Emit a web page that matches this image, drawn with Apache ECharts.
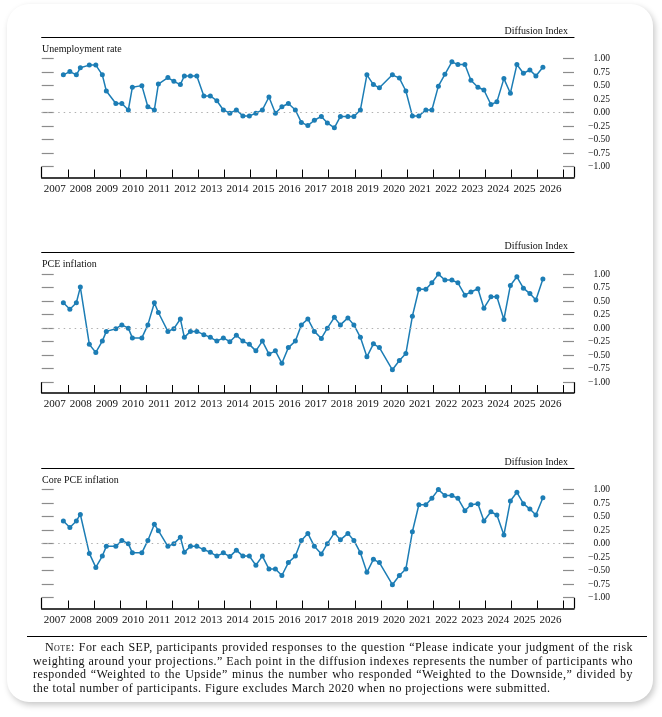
<!DOCTYPE html>
<html>
<head>
<meta charset="utf-8">
<script src="https://cdn.jsdelivr.net/npm/echarts@6/dist/echarts.min.js"></script>
<style>
  html, body { margin: 0; padding: 0; background: #fff; }
  body { width: 662px; height: 717px; position: relative; overflow: hidden; }
  .card {
    position: absolute; left: 7px; top: 4px; width: 646px; height: 698px;
    border-radius: 22px; background: #fff;
    box-shadow: 2px 3px 6px rgba(0, 0, 0, 0.22);
  }
  #chart { position: absolute; left: 0; top: 0; width: 662px; height: 717px; }
  .rule { position: absolute; left: 27px; top: 636px; width: 620px; height: 0; border-top: 1.3px solid #000; }
  .note {
    position: absolute; left: 33px; top: 641px; width: 600px;
    font-family: "Liberation Serif", "DejaVu Serif", serif; font-size: 12px; line-height: 13.7px;
    letter-spacing: 0.45px;
    color: #111; text-align: justify; text-indent: 12px;
  }
  .sc { font-variant: small-caps; }
</style>
</head>
<body>
<div class="card"></div>
<div id="chart"></div>
<div class="rule"></div>
<div class="note"><span class="sc">Note</span>: For each SEP, participants provided responses to the question “Please indicate your judgment of the risk weighting around your projections.” Each point in the diffusion indexes represents the number of participants who responded “Weighted to the Upside” minus the number who responded “Weighted to the Downside,” divided by the total number of participants. Figure excludes March 2020 when no projections were submitted.</div>
<script>
// SEP release dates (March 2020 has no projections)
const sepDates = [
  '2007-10-31',
  '2008-01-30', '2008-04-30', '2008-06-25', '2008-10-29',
  '2009-01-28', '2009-04-29', '2009-06-24', '2009-11-04',
  '2010-01-27', '2010-04-28', '2010-06-23', '2010-11-03',
  '2011-01-26', '2011-04-27', '2011-06-22', '2011-11-02',
  '2012-01-25', '2012-04-25', '2012-06-20', '2012-09-13', '2012-12-12',
  '2013-03-20', '2013-06-19', '2013-09-18', '2013-12-18',
  '2014-03-19', '2014-06-18', '2014-09-17', '2014-12-17',
  '2015-03-18', '2015-06-17', '2015-09-17', '2015-12-16',
  '2016-03-16', '2016-06-15', '2016-09-21', '2016-12-14',
  '2017-03-15', '2017-06-14', '2017-09-20', '2017-12-13',
  '2018-03-21', '2018-06-13', '2018-09-26', '2018-12-19',
  '2019-03-20', '2019-06-19', '2019-09-18', '2019-12-11',
  '2020-06-10', '2020-09-16', '2020-12-16',
  '2021-03-17', '2021-06-16', '2021-09-22', '2021-12-15',
  '2022-03-16', '2022-06-15', '2022-09-21', '2022-12-14',
  '2023-03-22', '2023-06-14', '2023-09-20', '2023-12-13',
  '2024-03-20', '2024-06-12', '2024-09-18', '2024-12-18',
  '2025-03-19', '2025-06-18', '2025-09-17', '2025-12-10',
  '2026-03-18'
];

const unemployment = [
  0.70,
  0.76, 0.70, 0.83, 0.88,
  0.88, 0.70, 0.40, 0.17,
  0.17, 0.05, 0.47, 0.50,
  0.11, 0.05, 0.53, 0.65,
  0.58, 0.52, 0.68, 0.68, 0.68,
  0.31, 0.31, 0.22, 0.05,
  -0.01, 0.05, -0.06, -0.06,
  -0.01, 0.05, 0.29, -0.01,
  0.11, 0.17, 0.05, -0.18,
  -0.24, -0.14, -0.07, -0.19,
  -0.28, -0.07, -0.07, -0.07,
  0.05, 0.70, 0.52, 0.46,
  0.70, 0.64, 0.40,
  -0.06, -0.06, 0.05, 0.05,
  0.49, 0.71, 0.94, 0.89,
  0.89, 0.60, 0.47, 0.42,
  0.15, 0.20, 0.63, 0.36,
  0.89, 0.73, 0.79, 0.68,
  0.84
];

const pceInflation = [
  0.47,
  0.35, 0.47, 0.76, -0.30,
  -0.45, -0.24, -0.06, -0.01,
  0.06, 0.00, -0.18, -0.18,
  0.06, 0.47, 0.29, -0.06,
  -0.01, 0.17, -0.17, -0.06, -0.06,
  -0.12, -0.17, -0.24, -0.18,
  -0.25, -0.13, -0.24, -0.30,
  -0.42, -0.24, -0.48, -0.42,
  -0.65, -0.36, -0.24, 0.06,
  0.17, -0.06, -0.19, 0.00,
  0.20, 0.06, 0.19, 0.06,
  -0.17, -0.53, -0.29, -0.36,
  -0.77, -0.60, -0.47,
  0.22, 0.72, 0.72, 0.84,
  1.00, 0.89, 0.89, 0.84,
  0.61, 0.67, 0.73, 0.37,
  0.58, 0.58, 0.16, 0.79,
  0.95, 0.74, 0.64, 0.52,
  0.91
];

const corePceInflation = [
  0.42,
  0.30, 0.42, 0.54, -0.18,
  -0.44, -0.23, -0.05, -0.05,
  0.06, 0.00, -0.17, -0.17,
  0.06, 0.36, 0.24, -0.05,
  0.00, 0.12, -0.16, -0.05, -0.05,
  -0.11, -0.16, -0.23, -0.17,
  -0.24, -0.12, -0.23, -0.23,
  -0.40, -0.23, -0.47, -0.47,
  -0.59, -0.35, -0.23, 0.06,
  0.19, -0.05, -0.19, 0.00,
  0.20, 0.07, 0.19, 0.06,
  -0.17, -0.53, -0.29, -0.35,
  -0.76, -0.59, -0.47,
  0.22, 0.72, 0.72, 0.84,
  1.00, 0.89, 0.89, 0.84,
  0.61, 0.72, 0.74, 0.42,
  0.59, 0.53, 0.16, 0.79,
  0.95, 0.74, 0.64, 0.53,
  0.85
];

const panelTitles = ['Unemployment rate', 'PCE inflation', 'Core PCE inflation'];
const yearTicks = [2007, 2008, 2009, 2010, 2011, 2012, 2013, 2014, 2015, 2016,
  2017, 2018, 2019, 2020, 2021, 2022, 2023, 2024, 2025, 2026, 2027];
const yTicks = [-1, -0.75, -0.5, -0.25, 0, 0.25, 0.5, 0.75, 1];

const panels = [unemployment, pceInflation, corePceInflation];
const gridTops = [37, 252.5, 468];
const gridHeight = 140.5;
const xMin = 2007, xMax = 2027.4, yMin = -1.2, yMax = 1.4;
const serif = '"Liberation Serif", "Times New Roman", serif';
const lineBlue = '#1c7db5';

// date string -> decimal year for the value x axis
const toYear = (s) => {
  const [y, m, d] = s.split('-').map(Number);
  const start = Date.UTC(y, 0, 1);
  const end = Date.UTC(y + 1, 0, 1);
  return y + (Date.UTC(y, m - 1, d) - start) / (end - start);
};
const xs = sepDates.map(toYear);
const yearLabelPos = yearTicks.slice(0, -1).map((y) => y + 0.5);

const fmtY = (v) => (v < 0 ? '\u2212' + Math.abs(v).toFixed(2) : v.toFixed(2));

const grid = [], xAxis = [], yAxis = [], series = [], title = [];

panels.forEach((values, i) => {
  grid.push({ left: 41.7, width: 532.3, top: gridTops[i], height: gridHeight, containLabel: false });

  xAxis.push({
    type: 'value', gridIndex: i, min: xMin, max: xMax, position: 'bottom',
    axisLine: { onZero: false, lineStyle: { color: '#000', width: 1.5 } },
    axisTick: { inside: true, length: 8, customValues: yearTicks, lineStyle: { color: '#000', width: 1 } },
    axisLabel: {
      customValues: yearLabelPos, formatter: (v) => String(Math.floor(v)),
      margin: 6, fontFamily: serif, fontSize: 11, color: '#111'
    },
    splitLine: { show: false }
  });
  xAxis.push({
    type: 'value', gridIndex: i, min: xMin, max: xMax, position: 'top',
    axisLine: { onZero: false, lineStyle: { color: '#000', width: 1.2 } },
    axisTick: { show: false }, axisLabel: { show: false }, splitLine: { show: false }
  });

  yAxis.push({
    type: 'value', gridIndex: i, min: yMin, max: yMax, position: 'left',
    axisLine: { show: false, onZero: false },
    axisTick: { inside: true, length: 12, customValues: yTicks, lineStyle: { color: '#8c8c8c', width: 1.2 } },
    axisLabel: { show: false }, splitLine: { show: false }
  });
  yAxis.push({
    type: 'value', gridIndex: i, min: yMin, max: yMax, position: 'right',
    axisLine: { show: false, onZero: false },
    axisTick: { inside: true, length: 11, customValues: yTicks, lineStyle: { color: '#8c8c8c', width: 1.2 } },
    axisLabel: {
      customValues: yTicks, formatter: fmtY, align: 'right', margin: 36,
      fontFamily: serif, fontSize: 9.5, color: '#111'
    },
    splitLine: { show: false }
  });

  series.push({
    type: 'line', xAxisIndex: 2 * i, yAxisIndex: 2 * i + 1,
    data: xs.map((x, k) => [x, values[k]]),
    symbol: 'circle', symbolSize: 5, showSymbol: true,
    lineStyle: { color: lineBlue, width: 1.5 },
    itemStyle: { color: lineBlue },
    animation: false,
    markLine: {
      silent: true, symbol: 'none', label: { show: false }, animation: false,
      data: [
        { yAxis: 0, lineStyle: { color: '#b0b0b0', type: [1.5, 4], width: 1 } },
        [{ coord: [xMin, -1], lineStyle: { color: '#000', type: 'solid', width: 1.2 } }, { coord: [xMin, yMin] }],
        [{ coord: [xMax, -1], lineStyle: { color: '#000', type: 'solid', width: 1.2 } }, { coord: [xMax, yMin] }]
      ]
    }
  });

  title.push({
    text: panelTitles[i], left: 42, top: gridTops[i] + 7, padding: 0,
    textStyle: { fontFamily: serif, fontSize: 10, fontWeight: 'normal', color: '#111' }
  });
  title.push({
    text: 'Diffusion Index', right: 94, top: gridTops[i] - 11, padding: 0,
    textStyle: { fontFamily: serif, fontSize: 10, fontWeight: 'normal', color: '#111' }
  });
});

const chart = echarts.init(document.getElementById('chart'), null, { renderer: 'canvas' });
chart.setOption({ backgroundColor: 'transparent', animation: false, title, grid, xAxis, yAxis, series });
</script>
</body>
</html>
